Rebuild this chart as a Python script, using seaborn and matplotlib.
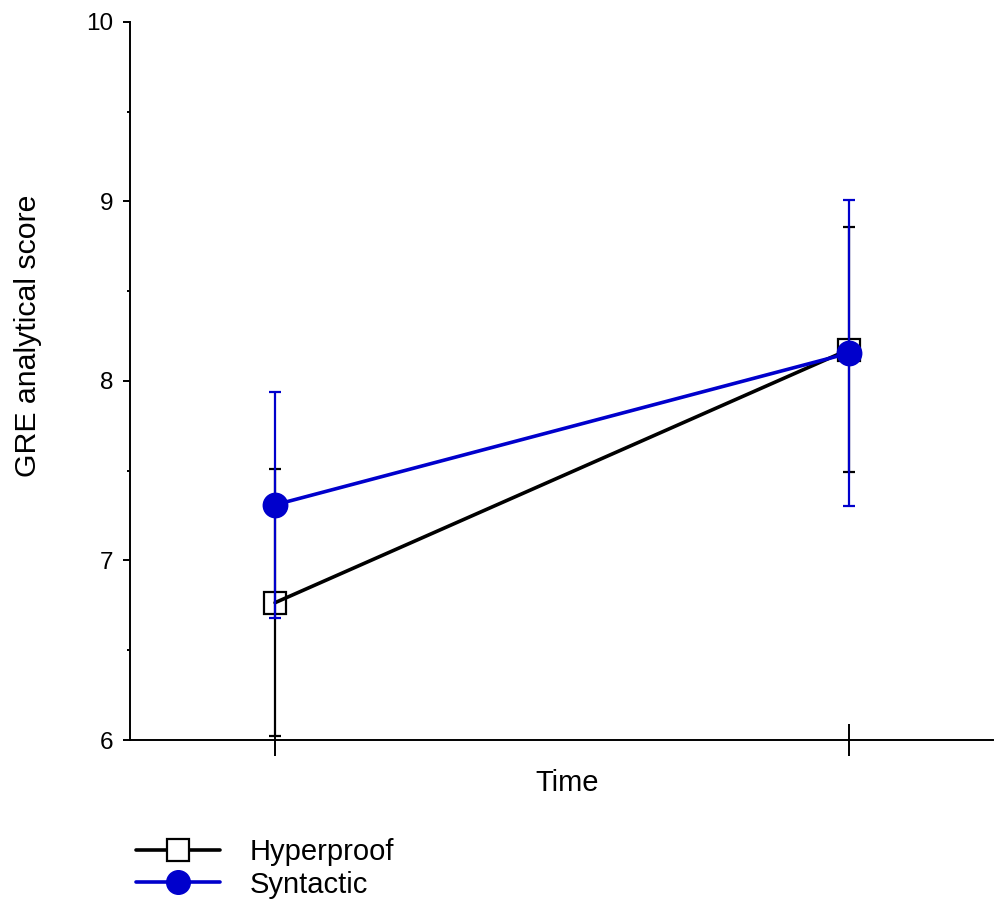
import numpy as np
import pandas as pd
import matplotlib
matplotlib.use("Agg")
import matplotlib.pyplot as plt
from matplotlib.lines import Line2D
from matplotlib.ticker import MultipleLocator
import seaborn as sns

# ---- data ----
times = [1, 2]
groups = ["Hyperproof", "Syntactic"]
hyperproof_mean = [6.765, 8.175]
hyperproof_err = [0.745, 0.684]
syntactic_mean = [7.31, 8.155]
syntactic_err = [0.63, 0.854]
y_ticks = [6, 7, 8, 9, 10]

df = pd.DataFrame({
    "time": times * 2,
    "score": hyperproof_mean + syntactic_mean,
    "err": hyperproof_err + syntactic_err,
    "group": [groups[0]] * 2 + [groups[1]] * 2,
})

sns.set_style("ticks")
plt.rcParams["font.family"] = ["Liberation Sans", "DejaVu Sans"]
plt.rcParams["text.color"] = "black"
plt.rcParams["axes.labelcolor"] = "black"
plt.rcParams["xtick.color"] = "black"
plt.rcParams["ytick.color"] = "black"

colors = {"Hyperproof": "black", "Syntactic": "#0000cc"}
markers = {"Hyperproof": "s", "Syntactic": "o"}
msizes = {"Hyperproof": 15.5, "Syntactic": 17}
faces = {"Hyperproof": "none", "Syntactic": "#0000cc"}

fig = plt.figure(figsize=(9.99, 9.09), dpi=100)
ax = fig.add_axes([0.130, 0.1859, 0.864, 0.790])

for i, g in enumerate(groups):
    sub = df[df["group"] == g]
    z = 2 + i * 3
    ax.errorbar(sub["time"], sub["score"], yerr=sub["err"], fmt="none",
                ecolor=colors[g], elinewidth=1.6, capsize=4, capthick=1.6,
                zorder=z)
    sns.lineplot(data=sub, x="time", y="score", ax=ax, color=colors[g],
                 linewidth=2.6, marker=markers[g], markersize=msizes[g],
                 markerfacecolor=faces[g], markeredgecolor=colors[g],
                 markeredgewidth=1.6, errorbar=None, legend=False,
                 zorder=z + 1)

ax.set_xlim(0.747, 2.251)
ax.set_ylim(6, 10)
ax.set_yticks(y_ticks)
ax.set_yticklabels([str(t) for t in y_ticks])
ax.yaxis.set_minor_locator(MultipleLocator(0.5))
ax.set_xticks(times)
ax.set_xticklabels(["", ""])

for s in ["top", "right"]:
    ax.spines[s].set_visible(False)
for s in ["left", "bottom"]:
    ax.spines[s].set_linewidth(1.4)
    ax.spines[s].set_color("black")

ax.tick_params(axis="y", which="major", direction="out", length=5,
               width=1.4, labelsize=17.5, pad=7, colors="black")
ax.tick_params(axis="y", which="minor", direction="out", length=2.5,
               width=1.4)
ax.tick_params(axis="x", which="major", direction="inout", length=23,
               width=1.4)

ax.set_xlabel("Time", fontsize=21)
ax.set_ylabel("GRE analytical score", fontsize=21.8)
ax.xaxis.set_label_coords(0.5064, -0.0405)
ax.yaxis.set_label_coords(-0.102, 0.5627)

handles = [
    Line2D([0], [0], color="black", lw=2.6, marker="s", markersize=15.5,
           markerfacecolor="white", markeredgecolor="black",
           markeredgewidth=1.6),
    Line2D([0], [0], color="#0000cc", lw=2.6, marker="o", markersize=17,
           markerfacecolor="#0000cc", markeredgecolor="#0000cc"),
]
fig.legend(handles, groups, loc="upper left",
           bbox_to_anchor=(0.136, 0.0784), frameon=False, fontsize=21,
           handlelength=2.9, handletextpad=1.0, labelspacing=0.17,
           borderpad=0, borderaxespad=0)

fig.savefig("out.png", dpi=100)
